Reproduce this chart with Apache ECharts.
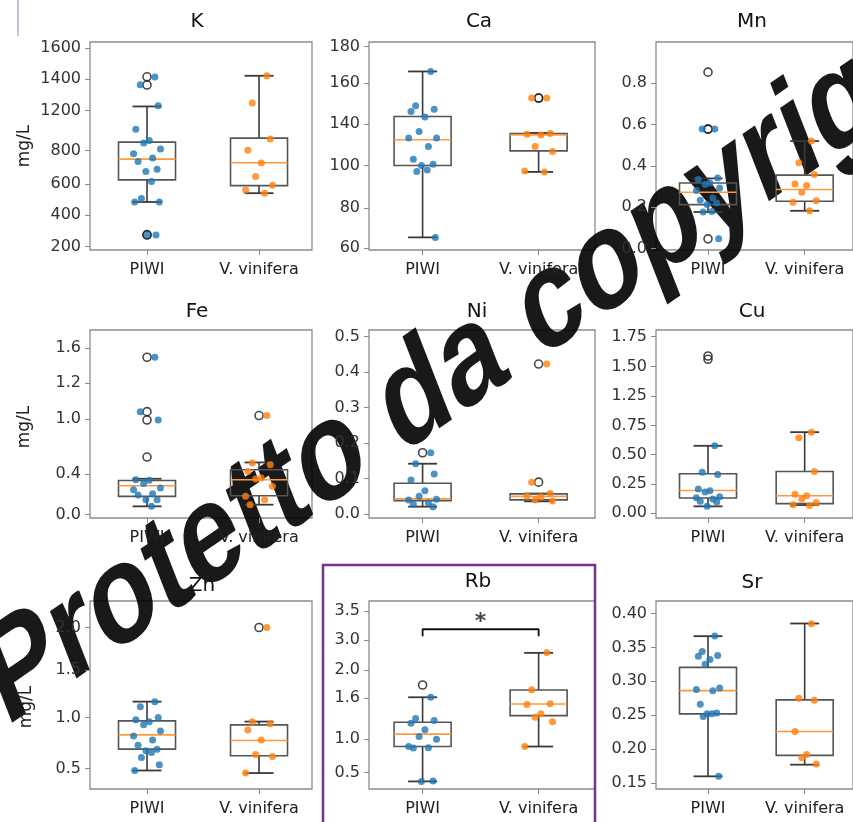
<!DOCTYPE html>
<html>
<head>
<meta charset="utf-8">
<script src="https://cdn.jsdelivr.net/npm/echarts@6/dist/echarts.min.js"></script>
<style>
html,body{margin:0;padding:0;background:#fff;}
#chart{width:853px;height:822px;}
</style>
</head>
<body>
<div id="chart"></div>
<script>
// ---------------- DATA ----------------
const categories = ['PIWI', 'V. vinifera'];
const yAxisName = 'mg/L';
const titles = ['K', 'Ca', 'Mn', 'Fe', 'Ni', 'Cu', 'Zn', 'Rb', 'Sr'];

// K
const kRange = [176.7, 1642];
const kTicks = [200, 424, 642, 877, 1158, 1383, 1600];
const kTickLabels = ['200', '400', '600', '800', '1200', '1400', '1600'];
const kPiwiBox = [515, 671, 817, 937, 1188];
const kPiwiPoints = [1395, 1340, 1193, 1028, 948, 930, 889, 854, 824, 800, 746, 729, 659, 539, 515, 515, 285, 282];
const kPiwiOutliers = [1397, 1339, 285, 282];
const kViniferaBox = [577, 630, 791, 965, 1404];
const kViniferaPoints = [1404, 1212, 958, 880, 790, 694, 632, 600, 577];
const kViniferaOutliers = [];

// Ca
const caRange = [59, 182.6];
const caTicks = [60, 83.8, 109.2, 133.8, 158.2, 180];
const caTickLabels = ['60', '80', '100', '140', '160', '180'];
const caPiwiBox = [66.5, 109.2, 124.5, 138.3, 165.1];
const caPiwiPoints = [165, 144.7, 142.7, 141.3, 138, 129.4, 125.5, 125.5, 120.5, 113, 110, 109.2, 106.6, 105.6, 66.5];
const caPiwiOutliers = [];
const caViniferaBox = [105.4, 117.9, 127.4, 128.2, 128.6];
const caViniferaPoints = [149.3, 149.3, 128.2, 127.8, 127.4, 120.5, 117.5, 106, 105.4];
const caViniferaOutliers = [149.3, 149.3];

// Mn
const mnRange = [-0.008, 1.0];
const mnTicks = [0, 0.2, 0.4, 0.6, 0.8];
const mnTickLabels = ['0.0', '0.2', '0.4', '0.6', '0.8'];
const mnPiwiBox = [0.176, 0.212, 0.272, 0.317, 0.339];
const mnPiwiPoints = [0.578, 0.578, 0.341, 0.334, 0.317, 0.309, 0.293, 0.28, 0.244, 0.233, 0.22, 0.212, 0.179, 0.176, 0.046];
const mnPiwiOutliers = [0.854, 0.578, 0.578, 0.046];
const mnViniferaBox = [0.182, 0.228, 0.285, 0.355, 0.52];
const mnViniferaPoints = [0.52, 0.415, 0.358, 0.312, 0.304, 0.272, 0.231, 0.223, 0.182];
const mnViniferaOutliers = [];

// Fe
const feRange = [-0.032, 1.775];
const feTicks = [0, 0.393, 0.921, 1.264, 1.6];
const feTickLabels = ['0.0', '0.4', '1.0', '1.2', '1.6'];
const fePiwiBox = [0.08, 0.176, 0.278, 0.329, 0.345];
const fePiwiPoints = [1.513, 0.99, 0.91, 0.336, 0.33, 0.3, 0.256, 0.24, 0.2, 0.19, 0.144, 0.144, 0.08];
const fePiwiOutliers = [1.513, 0.99, 0.91, 0.554];
const feViniferaBox = [0.096, 0.182, 0.336, 0.432, 0.502];
const feViniferaPoints = [0.953, 0.496, 0.48, 0.416, 0.352, 0.343, 0.272, 0.176, 0.144, 0.096];
const feViniferaOutliers = [0.953];

// Ni
const niRange = [-0.011, 0.519];
const niTicks = [0, 0.1, 0.2, 0.3, 0.4, 0.5];
const niTickLabels = ['0.0', '0.1', '0.2', '0.3', '0.4', '0.5'];
const niPiwiBox = [0.021, 0.038, 0.043, 0.087, 0.142];
const niPiwiPoints = [0.173, 0.142, 0.113, 0.096, 0.066, 0.05, 0.042, 0.04, 0.031, 0.028, 0.021];
const niPiwiOutliers = [0.173];
const niViniferaBox = [0.036, 0.04, 0.05, 0.057, 0.058];
const niViniferaPoints = [0.423, 0.09, 0.058, 0.05, 0.048, 0.04, 0.037];
const niViniferaOutliers = [0.423, 0.09];

// Cu
const cuRange = [-0.043, 1.569];
const cuTicks = [0, 0.25, 0.5, 0.75, 1.004, 1.255, 1.512];
const cuTickLabels = ['0.00', '0.25', '0.50', '0.75', '1.25', '1.50', '1.75'];
const cuPiwiBox = [0.057, 0.128, 0.193, 0.336, 0.576];
const cuPiwiPoints = [0.576, 0.35, 0.33, 0.205, 0.19, 0.18, 0.14, 0.13, 0.12, 0.1, 0.095, 0.057];
const cuPiwiOutliers = [1.346, 1.318];
const cuViniferaBox = [0.068, 0.08, 0.148, 0.356, 0.693];
const cuViniferaPoints = [0.693, 0.645, 0.356, 0.16, 0.148, 0.12, 0.09, 0.07, 0.065];
const cuViniferaOutliers = [];

// Zn
const znRange = [0.302, 2.14];
const znTicks = [0.5, 1.0, 1.465, 1.881];
const znTickLabels = ['0.5', '1.0', '1.5', '2.0'];
const znPiwiBox = [0.483, 0.692, 0.831, 0.968, 1.156];
const znPiwiPoints = [1.156, 1.107, 1.0, 0.98, 0.96, 0.93, 0.87, 0.82, 0.78, 0.73, 0.69, 0.675, 0.66, 0.61, 0.54, 0.483];
const znPiwiOutliers = [];
const znViniferaBox = [0.458, 0.627, 0.776, 0.929, 0.961];
const znViniferaPoints = [1.881, 0.96, 0.94, 0.88, 0.78, 0.64, 0.62, 0.458];
const znViniferaOutliers = [1.881];

// Rb
const rbRange = [0.251, 3.075];
const rbTicks = [0.5, 1.0, 1.614, 2.037, 2.487, 2.92];
const rbTickLabels = ['0.5', '1.0', '1.6', '2.0', '3.0', '3.5'];
const rbPiwiBox = [0.365, 0.889, 1.075, 1.254, 1.629];
const rbPiwiPoints = [1.63, 1.31, 1.28, 1.24, 1.14, 1.04, 1.0, 0.89, 0.87, 0.865, 0.37, 0.365];
const rbPiwiOutliers = [1.813];
const rbViniferaBox = [0.889, 1.353, 1.528, 1.738, 2.296];
const rbViniferaPoints = [2.3, 1.74, 1.53, 1.52, 1.38, 1.33, 1.26, 0.89];
const rbViniferaOutliers = [];
const rbSignificance = { from: 0, to: 1, y: 2.651, drop: 2.546, starY: 2.835, mark: '*' };

// Sr
const srRange = [0.141, 0.4185];
const srTicks = [0.15, 0.2, 0.25, 0.3, 0.35, 0.4];
const srTickLabels = ['0.15', '0.20', '0.25', '0.30', '0.35', '0.40'];
const srPiwiBox = [0.1597, 0.2519, 0.2862, 0.3206, 0.3666];
const srPiwiPoints = [0.367, 0.344, 0.338, 0.337, 0.332, 0.325, 0.29, 0.288, 0.286, 0.266, 0.253, 0.252, 0.252, 0.248, 0.16];
const srPiwiOutliers = [];
const srViniferaBox = [0.1769, 0.1906, 0.2259, 0.2725, 0.3853];
const srViniferaPoints = [0.385, 0.275, 0.272, 0.226, 0.192, 0.187, 0.178];
const srViniferaOutliers = [];

const watermarkText = 'Protetto da copyright';

// ---------------- ASSEMBLY ----------------
const panels = [
  {range: kRange, ticks: kTicks, labels: kTickLabels, box: [kPiwiBox, kViniferaBox], pts: [kPiwiPoints, kViniferaPoints], out: [kPiwiOutliers, kViniferaOutliers]},
  {range: caRange, ticks: caTicks, labels: caTickLabels, box: [caPiwiBox, caViniferaBox], pts: [caPiwiPoints, caViniferaPoints], out: [caPiwiOutliers, caViniferaOutliers]},
  {range: mnRange, ticks: mnTicks, labels: mnTickLabels, box: [mnPiwiBox, mnViniferaBox], pts: [mnPiwiPoints, mnViniferaPoints], out: [mnPiwiOutliers, mnViniferaOutliers]},
  {range: feRange, ticks: feTicks, labels: feTickLabels, box: [fePiwiBox, feViniferaBox], pts: [fePiwiPoints, feViniferaPoints], out: [fePiwiOutliers, feViniferaOutliers]},
  {range: niRange, ticks: niTicks, labels: niTickLabels, box: [niPiwiBox, niViniferaBox], pts: [niPiwiPoints, niViniferaPoints], out: [niPiwiOutliers, niViniferaOutliers]},
  {range: cuRange, ticks: cuTicks, labels: cuTickLabels, box: [cuPiwiBox, cuViniferaBox], pts: [cuPiwiPoints, cuViniferaPoints], out: [cuPiwiOutliers, cuViniferaOutliers]},
  {range: znRange, ticks: znTicks, labels: znTickLabels, box: [znPiwiBox, znViniferaBox], pts: [znPiwiPoints, znViniferaPoints], out: [znPiwiOutliers, znViniferaOutliers]},
  {range: rbRange, ticks: rbTicks, labels: rbTickLabels, box: [rbPiwiBox, rbViniferaBox], pts: [rbPiwiPoints, rbViniferaPoints], out: [rbPiwiOutliers, rbViniferaOutliers]},
  {range: srRange, ticks: srTicks, labels: srTickLabels, box: [srPiwiBox, srViniferaBox], pts: [srPiwiPoints, srViniferaPoints], out: [srPiwiOutliers, srViniferaOutliers]}
];

// layout (pixels)
const cols = [
  {left: 90, right: 312, xMin: -0.509, xMax: 1.473},
  {left: 369, right: 595, xMin: -0.462, xMax: 1.486},
  {left: 656, right: 862, xMin: -0.538, xMax: 1.5}
];
const rows = [{top: 42, bottom: 250}, {top: 330, bottom: 518}, {top: 601, bottom: 789}];
const titlePos = [[197, 22], [479, 22], [752, 22], [197, 312], [477, 312], [752, 312], [202, 586], [478, 582], [752, 583]];
const jitterPattern = [0.07, -0.06, 0.1, -0.1, 0.02, -0.03, 0.12, -0.12, 0.05, -0.08, 0.09, -0.01, 0.04, -0.05, 0.11, -0.11, 0.0, 0.08];
const groupColors = ['#1f77b4', '#ff7f0e'];
const BOX_W = 57, CAP_W = 29;
const FONT = '"DejaVu Sans", sans-serif';

const grids = [], xAxes = [], yAxes = [], series = [];

function renderBox(params, api) {
  const x = api.value(0);
  const p = [1, 2, 3, 4, 5].map(i => api.coord([x, api.value(i)]));
  const cx = p[0][0];
  const lo = p[0][1], q1 = p[1][1], md = p[2][1], q3 = p[3][1], hi = p[4][1];
  const bw = BOX_W / 2, cw = CAP_W / 2;
  const ln = (x1, y1, x2, y2, stroke, w) => ({type: 'line', shape: {x1, y1, x2, y2}, style: {stroke, lineWidth: w}});
  return {
    type: 'group',
    children: [
      ln(cx, q3, cx, hi, '#3a3a3a', 1.6),
      ln(cx, q1, cx, lo, '#3a3a3a', 1.6),
      ln(cx - cw, hi, cx + cw, hi, '#3a3a3a', 1.8),
      ln(cx - cw, lo, cx + cw, lo, '#3a3a3a', 1.8),
      {type: 'rect', shape: {x: cx - bw, y: q3, width: 2 * bw, height: q1 - q3}, style: {fill: 'rgba(255,255,255,0)', stroke: '#555', lineWidth: 1.6}},
      ln(cx - bw, md, cx + bw, md, '#ff9a3c', 1.6)
    ]
  };
}

panels.forEach((pn, i) => {
  const c = cols[i % 3], r = rows[Math.floor(i / 3)];
  grids.push({left: c.left, top: r.top, width: c.right - c.left, height: r.bottom - r.top,
    show: true, borderColor: '#8c8c8c', borderWidth: 1.3, backgroundColor: 'transparent', containLabel: false});
  xAxes.push({
    type: 'value', gridIndex: i, min: c.xMin, max: c.xMax, position: 'bottom',
    axisLine: {show: false, onZero: false}, splitLine: {show: false},
    axisTick: {show: true, customValues: [0, 1], length: 5, lineStyle: {color: '#888'}},
    axisLabel: {show: true, customValues: [0, 1], margin: 12, fontSize: 16, color: '#222', fontFamily: FONT,
      formatter: v => categories[Math.round(v)]}
  });
  const ticks = pn.ticks, labels = pn.labels;
  yAxes.push({
    type: 'value', gridIndex: i, min: pn.range[0], max: pn.range[1], position: 'left',
    axisLine: {show: false, onZero: false}, splitLine: {show: false},
    axisTick: {show: true, customValues: ticks, length: 5, lineStyle: {color: '#888'}},
    axisLabel: {show: true, customValues: ticks, margin: 9, fontSize: 16, color: '#333', fontFamily: FONT,
      formatter: v => {
        let best = 0, d = Infinity;
        ticks.forEach((t, k) => { if (Math.abs(t - v) < d) { d = Math.abs(t - v); best = k; } });
        return labels[best];
      }}
  });
  series.push({
    type: 'custom', xAxisIndex: i, yAxisIndex: i, renderItem: renderBox, clip: false, z: 2,
    encode: {x: 0, y: [1, 2, 3, 4, 5]},
    data: pn.box.map((b, g) => [g].concat(b))
  });
  [0, 1].forEach(g => {
    series.push({
      type: 'scatter', xAxisIndex: i, yAxisIndex: i, z: 3, symbol: 'circle', symbolSize: 8,
      itemStyle: {color: 'rgba(0,0,0,0)', borderColor: '#1a1a1a', borderWidth: 1.6},
      data: pn.out[g].map(v => [g, v])
    });
    series.push({
      type: 'scatter', xAxisIndex: i, yAxisIndex: i, z: 4, symbol: 'circle', symbolSize: 7,
      itemStyle: {color: groupColors[g], opacity: 0.8},
      data: pn.pts[g].map((v, k) => [g + jitterPattern[k % jitterPattern.length], v])
    });
  });
});

// significance bracket on Rb (panel index 7)
series.push({
  type: 'line', xAxisIndex: 7, yAxisIndex: 7, z: 5, symbol: 'none', silent: true,
  lineStyle: {color: '#111', width: 1.8},
  data: [[rbSignificance.from, rbSignificance.drop], [rbSignificance.from, rbSignificance.y],
         [rbSignificance.to, rbSignificance.y], [rbSignificance.to, rbSignificance.drop]]
});
series.push({
  type: 'scatter', xAxisIndex: 7, yAxisIndex: 7, z: 5, symbolSize: 1, itemStyle: {color: 'rgba(0,0,0,0)'},
  label: {show: true, position: 'inside', formatter: rbSignificance.mark, fontSize: 22, fontWeight: 'bold', color: '#111', fontFamily: FONT, offset: [0, 5]},
  data: [[(rbSignificance.from + rbSignificance.to) / 2, rbSignificance.starY]]
});

const graphics = [];
titles.forEach((t, i) => {
  graphics.push({type: 'text', x: titlePos[i][0], y: titlePos[i][1], z: 10,
    style: {text: t, font: '20px ' + FONT, fill: '#111', textAlign: 'center', textVerticalAlign: 'middle'}});
});
[[25, 146], [25, 427], [27, 707]].forEach(p => {
  graphics.push({type: 'text', x: p[0], y: p[1], rotation: Math.PI / 2, z: 10,
    style: {text: yAxisName, font: '17px ' + FONT, fill: '#222', textAlign: 'center', textVerticalAlign: 'middle'}});
});
// highlight frame around Rb
graphics.push({type: 'rect', z: 20, shape: {x: 323, y: 565, width: 272, height: 290},
  style: {fill: 'none', stroke: '#7b2f8f', lineWidth: 2.5}});
// thin lavender line top-left
graphics.push({type: 'line', z: 20, shape: {x1: 18, y1: 0, x2: 18, y2: 36}, style: {stroke: '#cbbfe0', lineWidth: 2}});
// watermark
graphics.push({
  type: 'group', x: -8, y: 692, scaleY: 1.33, z: 100,
  children: [{type: 'text', x: 0, y: 0, rotation: 27.4 * Math.PI / 180,
    style: {text: watermarkText, font: 'bold 108px "Liberation Sans", Arial, sans-serif', fill: 'rgba(0,0,0,0.9)', textAlign: 'left', textVerticalAlign: 'middle'}}]
});

const chart = echarts.init(document.getElementById('chart'), null, {renderer: 'canvas'});
chart.setOption({
  animation: false,
  backgroundColor: '#fff',
  grid: grids, xAxis: xAxes, yAxis: yAxes, series: series, graphic: graphics
});
</script>
</body>
</html>
